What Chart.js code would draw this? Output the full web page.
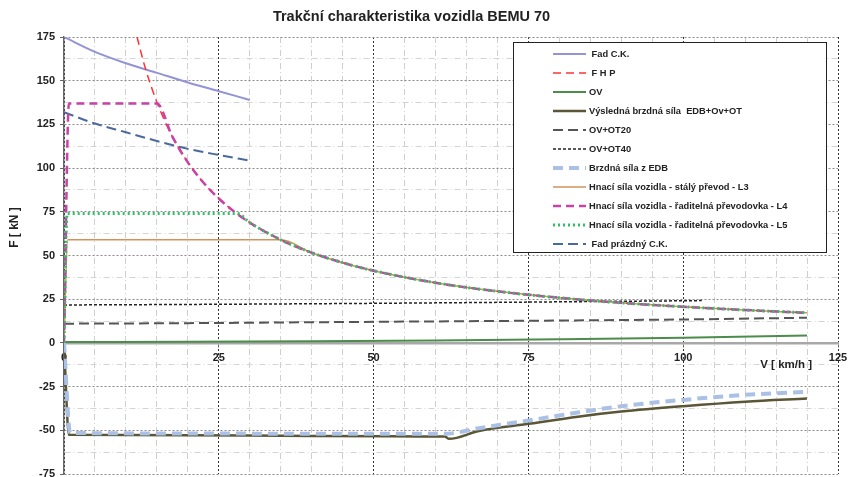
<!DOCTYPE html>
<html>
<head>
<meta charset="utf-8">
<title>Trakční charakteristika vozidla BEMU 70</title>
<script src="https://cdn.jsdelivr.net/npm/chart.js@4.4.0/dist/chart.umd.min.js"></script>
<style>
  body { margin: 0; background: #fff; }
  #wrap { width: 848px; height: 477px; }
</style>
</head>
<body>
<div id="wrap"><canvas id="tractionChart" width="848" height="477"></canvas></div>
<script>
// speeds V [km/h] and forces F [kN]
var fadCkV = [0, 5, 10, 15, 20, 25, 30];
var fadCkF = [175, 166.5, 160, 154.5, 149, 144, 139];

var fhpV = [11.8, 13, 15, 17.5, 20, 22.5, 25, 27.5, 30, 35, 40, 45, 50, 60, 70, 80, 90, 100, 110, 120];
var fhpF = [175, 158.8, 137.7, 118, 103.3, 91.8, 82.6, 75.1, 68.8, 59, 51.6, 45.9, 41.3, 34.4, 29.5, 25.8, 22.9, 20.7, 18.8, 17.2];

var ovV = [0, 20, 40, 60, 80, 100, 120];
var ovF = [0.5, 0.6, 0.9, 1.4, 2.1, 3.0, 4.3];

var resultV = [0, 0.8, 20, 40, 61.5, 62.2, 67, 75, 83, 90, 100, 110, 120];
var resultF = [0, -52.6, -52.8, -53.2, -53.6, -54.9, -50.4, -46.3, -42.2, -39.3, -36.2, -33.6, -31.8];

var ot20V = [0, 20, 40, 60, 80, 100, 120];
var ot20F = [11, 11.3, 11.8, 12.3, 12.8, 13.4, 14.4];

var ot40V = [0, 20, 40, 60, 80, 103];
var ot40F = [21.7, 22, 22.4, 22.9, 23.5, 24.2];

var edbV = [0, 1, 20, 40, 61.5, 67, 75, 83, 90, 100, 110, 120];
var edbF = [0, -51.5, -51.8, -52, -52, -48.8, -44.4, -39.8, -36.2, -32.6, -29.7, -28];

var l3V = [0, 0.6, 35, 40, 45, 50, 60, 70, 80, 90, 100, 110, 120];
var l3F = [0, 59, 59, 51.6, 45.9, 41.3, 34.4, 29.5, 25.8, 22.9, 20.7, 18.8, 17.2];

var l4V = [0, 0.8, 15, 17.5, 20, 22.5, 25, 27.5, 30, 35, 40, 45, 50, 60, 70, 80, 90, 100, 110, 120];
var l4F = [0, 137, 137, 118, 103.3, 91.8, 82.6, 75.1, 68.8, 59, 51.6, 45.9, 41.3, 34.4, 29.5, 25.8, 22.9, 20.7, 18.8, 17.2];

var l5V = [0, 0.5, 28, 30, 35, 40, 45, 50, 60, 70, 80, 90, 100, 110, 120];
var l5F = [0, 74, 74, 68.8, 59, 51.6, 45.9, 41.3, 34.4, 29.5, 25.8, 22.9, 20.7, 18.8, 17.2];

var fadEmptyV = [0, 5, 10, 15, 20, 25, 30];
var fadEmptyF = [132, 125.5, 120.5, 115.5, 111, 107.5, 104.3];

// labelled ticks
var xLabelValues = [0, 25, 50, 75, 100, 125];
var yLabelValues = [-75, -50, -25, 0, 25, 50, 75, 100, 125, 150, 175];

var fontFamily = "'Liberation Sans', Arial, sans-serif";
Chart.defaults.font.family = fontFamily;
Chart.defaults.color = '#222';

function pts(vs, fs) {
    return vs.map(function(v, i) { return { x: v, y: fs[i] }; });
}

function line(label, vs, fs, color, width, dash, order) {
    return {
        label: label,
        data: pts(vs, fs),
        borderColor: color,
        borderWidth: width,
        borderDash: dash,
        order: order,
        pointRadius: 0,
        pointHoverRadius: 0,
        fill: false,
        cubicInterpolationMode: 'monotone'
    };
}

// legend drawn as a framed box inside the plot, like the original
var legendBox = {
    id: 'legendBox',
    afterDatasetsDraw: function(chart) {
        var ctx = chart.ctx, a = chart.chartArea;
        var x0 = a.left + 449, y0 = a.top + 5, w = 313, h = 210;
        ctx.save();
        ctx.fillStyle = '#fff';
        ctx.fillRect(x0, y0, w, h);
        ctx.strokeStyle = '#222';
        ctx.lineWidth = 1;
        ctx.strokeRect(x0 + 0.5, y0 + 0.5, w, h);
        ctx.font = 'bold 9.3px ' + fontFamily;
        ctx.textBaseline = 'middle';
        chart.data.datasets.forEach(function(ds, i) {
            var y = y0 + 12 + i * 19;
            ctx.strokeStyle = ds.borderColor;
            ctx.lineWidth = ds.borderWidth;
            ctx.setLineDash(ds.borderDash || []);
            ctx.beginPath();
            ctx.moveTo(x0 + 40, y);
            ctx.lineTo(x0 + 73, y);
            ctx.stroke();
            ctx.setLineDash([]);
            ctx.fillStyle = '#222';
            ctx.textAlign = 'left';
            ctx.fillText(ds.label, x0 + 76, y);
        });
        ctx.restore();
    }
};

// title and axis titles sit at odd places in the original, so draw them by hand
var chartTexts = {
    id: 'chartTexts',
    afterDraw: function(chart) {
        var ctx = chart.ctx, a = chart.chartArea, ys = chart.scales.y;
        ctx.save();
        ctx.fillStyle = '#222';
        ctx.textBaseline = 'middle';
        ctx.textAlign = 'center';
        ctx.font = 'bold 14.5px ' + fontFamily;
        ctx.fillText('Trakční charakteristika vozidla BEMU 70', 411.5, 17);
        ctx.font = 'bold 11.5px ' + fontFamily;
        ctx.textAlign = 'right';
        ctx.fillText('V [ km/h ]', a.right - 26, ys.getPixelForValue(0) + 22);
        ctx.font = 'bold 12px ' + fontFamily;
        ctx.translate(a.left - 49, ys.getPixelForValue(66));
        ctx.rotate(-Math.PI / 2);
        ctx.textAlign = 'center';
        ctx.fillText('F [ kN ]', 0, 0);
        ctx.restore();
    }
};

function isMajor(c) {
    return c.tick && Math.abs(c.tick.value % 25) < 1e-9;
}

var ctx = document.getElementById('tractionChart').getContext('2d');

var myChart = new Chart(ctx, {
    type: 'line',
    data: {
        datasets: [
            line(' Fad C.K.', fadCkV, fadCkF, '#9393d6', 2, [], 8),
            line(' F H P', fhpV, fhpF, '#ff3333', 1.5, [8, 5], 3),
            line('OV', ovV, ovF, '#4c8c4c', 2, [], 9),
            line('Výsledná brzdná síla  EDB+Ov+OT', resultV, resultF, '#5a5636', 2.5, [], 6),
            line('OV+OT20', ot20V, ot20F, '#555555', 2, [10, 5], 10),
            line('OV+OT40', ot40V, ot40F, '#222222', 1.5, [3, 2], 11),
            line('Brzdná síla z EDB', edbV, edbF, '#aac0e4', 4, [10, 6], 5),
            line('Hnací síla vozidla - stálý převod - L3', l3V, l3F, '#d0935e', 1.5, [], 4),
            line('Hnací síla vozidla - řaditelná převodovka - L4', l4V, l4F, '#c843a8', 2.5, [8, 5], 2),
            line('Hnací síla vozidla - řaditelná převodovka - L5', l5V, l5F, '#2fc066', 3, [2, 3], 1),
            line(' Fad prázdný C.K.', fadEmptyV, fadEmptyF, '#4a6a9e', 2, [10, 5], 7)
        ]
    },
    options: {
        responsive: false,
        animation: false,
        devicePixelRatio: 1,
        layout: { padding: { top: 37, left: 0, right: 10, bottom: 3 } },
        plugins: {
            legend: { display: false },
            tooltip: { enabled: false },
            title: { display: false }
        },
        scales: {
            x: {
                type: 'linear',
                position: { y: 0 },
                min: 0,
                max: 125,
                afterFit: function(s) { s.height = 0; s.paddingLeft = 0; s.paddingRight = 0; },
                ticks: {
                    stepSize: 5,
                    autoSkip: false,
                    maxRotation: 0,
                    padding: 5,
                    font: { size: 11, weight: 'bold' },
                    color: '#222',
                    callback: function(v) { return xLabelValues.indexOf(v) >= 0 ? v : ''; }
                },
                grid: {
                    color: function(c) { return isMajor(c) ? '#333' : '#cfcfcf'; },
                    lineWidth: 1,
                    tickLength: 3,
                    tickColor: function(c) { return isMajor(c) ? '#666' : 'rgba(0,0,0,0)'; }
                },
                border: {
                    color: '#a8a8a8',
                    width: 2.5,
                    dash: function(c) { return c.tick ? (isMajor(c) ? [2, 2] : [6, 3, 1, 3]) : []; }
                }
            },
            y: {
                type: 'linear',
                min: -75,
                max: 175,
                afterFit: function(s) { s.width = 64; s.paddingTop = 0; s.paddingBottom = 0; },
                ticks: {
                    stepSize: 12.5,
                    autoSkip: false,
                    padding: 5,
                    font: { size: 11, weight: 'bold' },
                    color: '#222',
                    callback: function(v) { return yLabelValues.indexOf(v) >= 0 ? v : ''; }
                },
                grid: {
                    color: function(c) { return isMajor(c) ? '#8a8a8a' : '#d4d4d4'; },
                    lineWidth: 1,
                    tickLength: 4,
                    tickColor: function(c) { return isMajor(c) ? '#666' : 'rgba(0,0,0,0)'; }
                },
                border: {
                    color: '#666',
                    width: 1.5,
                    dash: function(c) { return c.tick ? (isMajor(c) ? [2, 2] : [6, 3, 1, 3]) : []; }
                }
            }
        }
    },
    plugins: [legendBox, chartTexts]
});
</script>
</body>
</html>
